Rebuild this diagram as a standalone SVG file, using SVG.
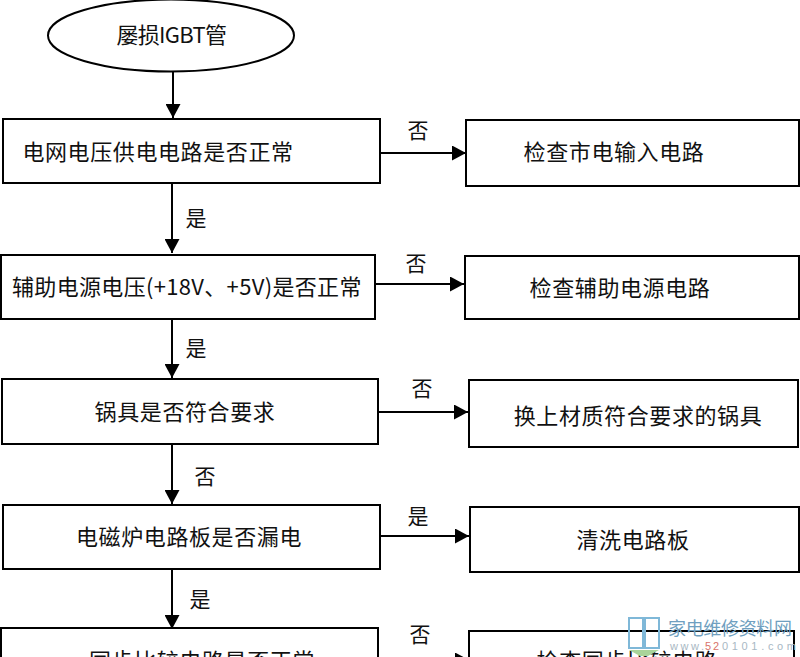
<svg xmlns="http://www.w3.org/2000/svg" width="800" height="657" viewBox="0 0 800 657">
<defs>
<marker id="arrow" markerUnits="userSpaceOnUse" markerWidth="15" markerHeight="15" refX="14" refY="7.500" orient="auto"><path d="M0 0L14 7.500L0 15Z" fill="#000"/></marker>
</defs>
<style>
.box{fill:#fff;stroke:#000;stroke-width:2}
.t{font-family:"Noto Sans CJK SC","Liberation Sans",sans-serif;font-size:22px;letter-spacing:.6px;fill:#111;text-anchor:middle}
.l{font-family:"Noto Sans CJK SC",sans-serif;font-size:21px;fill:#111;text-anchor:middle}
.c{fill:none;stroke:#000;stroke-width:2;marker-end:url(#arrow)}
</style>
<rect width="800" height="657" fill="#fff"/>
<g id="connectors">
<path class="c" d="M173 72V118"/>
<path class="c" d="M172 184V253"/>
<path class="c" d="M172 319V378"/>
<path class="c" d="M172 444V504"/>
<path class="c" d="M172 569V629"/>
<path class="c" d="M380 153H466"/>
<path class="c" d="M375 284H464"/>
<path class="c" d="M378 412H468"/>
<path class="c" d="M380 536H469"/>
<path class="c" d="M378 660H469"/>
<text class="l" x="418" y="138">否</text>
<text class="l" x="416" y="271">否</text>
<text class="l" x="422" y="396">否</text>
<text class="l" x="418" y="524">是</text>
<text class="l" x="420" y="642">否</text>
<text class="l" x="196" y="226">是</text>
<text class="l" x="196" y="356">是</text>
<text class="l" x="205" y="484">否</text>
<text class="l" x="200" y="607">是</text>
</g>
<g id="n-start"><ellipse cx="171" cy="35.500" rx="123" ry="36" fill="#fff" stroke="#000" stroke-width="2"/><text class="t" x="172" y="43" textLength="111" lengthAdjust="spacing">屡损IGBT管</text></g>
<g id="n-grid"><rect class="box" x="3" y="119" width="377" height="64"/><text class="t" x="158" y="160">电网电压供电电路是否正常</text></g>
<g id="n-mains"><rect class="box" x="466" y="120" width="333" height="66"/><text class="t" x="614" y="160">检查市电输入电路</text></g>
<g id="n-aux"><rect class="box" x="1" y="255" width="374" height="64"/><text class="t" x="187" y="295" textLength="350" lengthAdjust="spacing">辅助电源电压(+18V、+5V)是否正常</text></g>
<g id="n-auxcheck"><rect class="box" x="465" y="256" width="334" height="63"/><text class="t" x="620" y="296">检查辅助电源电路</text></g>
<g id="n-pot"><rect class="box" x="2" y="379" width="376" height="65"/><text class="t" x="185" y="420">锅具是否符合要求</text></g>
<g id="n-potswap"><rect class="box" x="469" y="380" width="329" height="67"/><text class="t" x="638" y="424">换上材质符合要求的锅具</text></g>
<g id="n-leak"><rect class="box" x="3" y="505" width="377" height="64"/><text class="t" x="189" y="545">电磁炉电路板是否漏电</text></g>
<g id="n-clean"><rect class="box" x="470" y="507" width="329" height="65"/><text class="t" x="633" y="548">清洗电路板</text></g>
<g id="n-sync"><rect class="box" x="1" y="628" width="377" height="60"/><text class="t" x="202" y="669">同步比较电路是否正常</text></g>
<g id="n-synccheck"><rect class="box" x="469" y="631" width="325" height="60"/><text class="t" x="627" y="669">检查同步比较电路</text></g>
<g id="watermark">
<path d="M629 618H643V648H629ZM645 618H659V648H645Z" fill="none" stroke="#7fb8d8" stroke-width="2"/>
<path d="M629 650H659L648 656H640Z" fill="#a9d49a"/>
<text x="668" y="635" font-family="'Noto Sans CJK SC',sans-serif" font-size="18" fill="#6f9fc0" textLength="124">家电维修资料网</text>
<text x="670" y="650" font-family="'Liberation Sans',sans-serif" font-size="11" fill="#a8b8c4" textLength="34">www.</text>
<text x="705" y="650" font-family="'Liberation Sans',sans-serif" font-size="11" fill="#d9746a" textLength="14">52</text>
<text x="722" y="650" font-family="'Liberation Sans',sans-serif" font-size="11" fill="#a8b8c4" textLength="74">0101.com</text>
</g>
</svg>
